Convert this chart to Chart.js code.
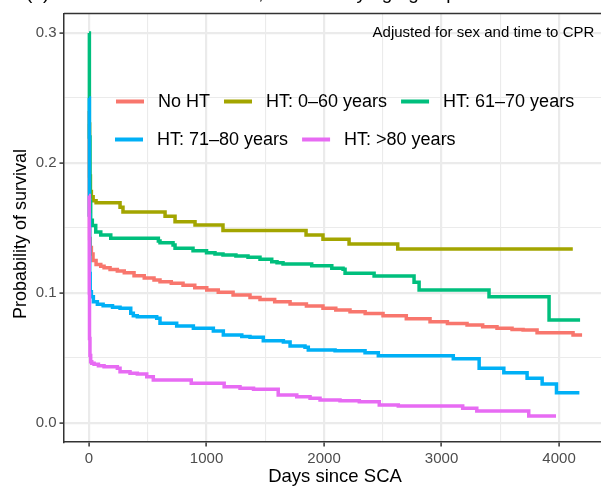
<!DOCTYPE html>
<html>
<head>
<meta charset="utf-8">
<script src="https://cdn.jsdelivr.net/npm/chart.js@4"></script>
<style>
  body { margin: 0; background: #fff; }
  canvas { display: block; }
</style>
</head>
<body>
<canvas id="chart" width="601" height="486"></canvas>
<script>
// Survival curves (days since SCA, probability of survival)
const seriesLabels = ["No HT", "HT: 0\u201360 years", "HT: 61\u201370 years", "HT: 71\u201380 years", "HT: >80 years"];
const seriesColors = ["#F8766D", "#A3A500", "#00BF7D", "#00B0F6", "#E76BF3"];

const noHtDays = [0, 2, 5, 10, 20, 34, 60, 100, 128, 179, 241, 300, 383, 470, 553, 604, 700, 800, 900, 1002, 1100, 1226, 1370, 1455, 1580, 1711, 1850, 1991, 2100, 2221, 2350, 2502, 2700, 2902, 3050, 3217, 3350, 3472, 3600, 3694, 3813, 4119, 4196];
const noHtSurv = [0.24, 0.16, 0.142, 0.135, 0.13, 0.125, 0.122, 0.1205, 0.1195, 0.118, 0.117, 0.1155, 0.1133, 0.1115, 0.11, 0.1087, 0.1075, 0.106, 0.104, 0.1023, 0.1005, 0.0985, 0.0965, 0.095, 0.0932, 0.0915, 0.09, 0.0882, 0.087, 0.0856, 0.0842, 0.0825, 0.0802, 0.0779, 0.0766, 0.0754, 0.0741, 0.0728, 0.072, 0.0715, 0.0695, 0.0677, 0.0677];

const ht0to60Days = [0, 5, 12, 20, 35, 60, 264, 289, 647, 732, 902, 1140, 1847, 1991, 2213, 2627, 4117];
const ht0to60Surv = [0.23, 0.19, 0.178, 0.174, 0.171, 0.1695, 0.166, 0.1623, 0.159, 0.1548, 0.1523, 0.148, 0.1446, 0.1413, 0.1377, 0.1338, 0.1338];

const ht61to70Days = [0, 3, 8, 14, 28, 57, 100, 185, 590, 604, 715, 732, 885, 1000, 1072, 1140, 1250, 1353, 1455, 1555, 1600, 1651, 1895, 2066, 2162, 2179, 2426, 2766, 2809, 3404, 3915, 4179];
const ht61to70Surv = [0.3, 0.22, 0.17, 0.156, 0.152, 0.147, 0.1446, 0.1421, 0.14, 0.1387, 0.1369, 0.1344, 0.1325, 0.131, 0.13, 0.1292, 0.1285, 0.1275, 0.1259, 0.1241, 0.1232, 0.1223, 0.121, 0.119, 0.1182, 0.1152, 0.1131, 0.1082, 0.1023, 0.0972, 0.0792, 0.0792];

const ht71to80Days = [0, 3, 6, 10, 20, 37, 71, 120, 200, 264, 355, 377, 411, 576, 604, 746, 888, 1058, 1143, 1300, 1370, 1483, 1654, 1711, 1838, 1866, 2094, 2349, 2462, 3100, 3320, 3530, 3728, 3856, 3978, 4173];
const ht71to80Surv = [0.25, 0.16, 0.115, 0.101, 0.0972, 0.0933, 0.0913, 0.0902, 0.089, 0.0882, 0.0844, 0.0825, 0.0818, 0.0805, 0.0767, 0.0746, 0.0728, 0.0708, 0.0677, 0.0665, 0.0659, 0.0633, 0.0623, 0.0592, 0.0582, 0.0562, 0.0556, 0.0541, 0.0518, 0.0495, 0.0421, 0.0387, 0.0344, 0.03, 0.0233, 0.0233];

const htOver80Days = [0, 2, 4, 8, 14, 23, 43, 80, 128, 241, 264, 349, 411, 491, 547, 870, 1150, 1285, 1400, 1610, 1768, 1881, 1966, 2136, 2300, 2470, 2632, 3180, 3300, 3742, 3974];
const htOver80Surv = [0.175, 0.1, 0.065, 0.052, 0.0472, 0.0459, 0.0452, 0.044, 0.0433, 0.0421, 0.0395, 0.0382, 0.0377, 0.0356, 0.0331, 0.0305, 0.0279, 0.0267, 0.0259, 0.0215, 0.0202, 0.019, 0.0177, 0.0172, 0.0164, 0.0138, 0.0131, 0.0113, 0.0092, 0.0054, 0.0054];

// axes: grid positions (major + minor) and labelled ticks
const xGrid = [0, 500, 1000, 1500, 2000, 2500, 3000, 3500, 4000];
const xTickLabels = [0, 1000, 2000, 3000, 4000];
const yGrid = [0, 0.05, 0.1, 0.15, 0.2, 0.25, 0.3];
const yTickLabels = [0, 0.1, 0.2, 0.3];

const titleText = "(b) Survival after SCA in HT, stratified by age group";
const xTitle = "Days since SCA";
const yTitle = "Probability of survival";
const noteText = "Adjusted for sex and time to CPR";
const noteX = 4300;
const noteY = 0.3;

const FONT = "'Liberation Sans', Arial, Helvetica, sans-serif";

const allDays = [noHtDays, ht0to60Days, ht61to70Days, ht71to80Days, htOver80Days];
const allSurv = [noHtSurv, ht0to60Surv, ht61to70Surv, ht71to80Surv, htOver80Surv];

const datasets = seriesLabels.map((label, i) => ({
  label: label,
  data: allDays[i].map((d, j) => ({ x: d, y: allSurv[i][j] })),
  borderColor: seriesColors[i],
  backgroundColor: seriesColors[i],
  borderWidth: 3.5,
  pointRadius: 0,
  fill: false,
  stepped: true,
  order: seriesLabels.length - i, // later groups on top, like ggplot
}));

function isMajorX(v) {
  return xTickLabels.includes(v);
}
function isMajorY(v) {
  return yTickLabels.some((t) => Math.abs(t - v) < 1e-9);
}

// top border of the panel (left/bottom come from the axes)
const panelBorder = {
  id: "panelBorder",
  afterDatasetsDraw(chart) {
    const a = chart.chartArea;
    const c = chart.ctx;
    c.save();
    c.strokeStyle = "#333333";
    c.lineWidth = 1.5;
    c.beginPath();
    c.moveTo(a.left, a.top);
    c.lineTo(a.right, a.top);
    c.stroke();
    c.restore();
  },
};

// legend drawn inside the panel, two rows
const insideLegend = {
  id: "insideLegend",
  afterDatasetsDraw(chart) {
    const c = chart.ctx;
    const rows = [
      { start: 116, y: 101.5, items: [0, 1, 2] },
      { start: 115, y: 139.5, items: [3, 4] },
    ];
    c.save();
    c.font = "18px " + FONT;
    c.textBaseline = "middle";
    c.textAlign = "left";
    rows.forEach((row) => {
      let x = row.start;
      row.items.forEach((i) => {
        const ds = chart.data.datasets[i];
        c.strokeStyle = ds.borderColor;
        c.lineWidth = 4;
        c.beginPath();
        c.moveTo(x, row.y);
        c.lineTo(x + 28, row.y);
        c.stroke();
        x += 28 + 14;
        c.fillStyle = "#000";
        c.fillText(ds.label, x, row.y + 1);
        x += c.measureText(ds.label).width + 14;
      });
    });
    c.restore();
  },
};

// annotation, axis titles and plot title (cut off at the top, as in the picture)
const texts = {
  id: "texts",
  afterDraw(chart) {
    const c = chart.ctx;
    const sx = chart.scales.x;
    const sy = chart.scales.y;
    c.save();
    c.fillStyle = "#000";
    c.font = "15px " + FONT;
    c.textAlign = "right";
    c.textBaseline = "middle";
    c.fillText(noteText, sx.getPixelForValue(noteX), sy.getPixelForValue(noteY));

    c.font = "18.5px " + FONT;
    c.textAlign = "center";
    c.fillText(xTitle, 335, 477);

    c.save();
    c.translate(21, 234);
    c.rotate(-Math.PI / 2);
    c.font = "18px " + FONT;
    c.fillText(yTitle, 0, 0);
    c.restore();

    c.font = "19px " + FONT;
    c.textAlign = "left";
    c.textBaseline = "alphabetic";
    c.fillText(titleText, 26, -1.5);
    c.restore();
  },
};

const ctx = document.getElementById("chart");
new Chart(ctx, {
  type: "line",
  data: { datasets: datasets },
  options: {
    responsive: false,
    animation: false,
    layout: { padding: { top: 13.5, right: 0, bottom: 0, left: 0 } },
    plugins: {
      legend: { display: false },
      tooltip: { enabled: false },
    },
    scales: {
      x: {
        type: "linear",
        min: -213,
        max: 4357,
        afterBuildTicks: (s) => {
          s.ticks = xGrid.map((v) => ({ value: v }));
        },
        afterFit: (s) => {
          s.height = 44;
        },
        grid: {
          color: "#EBEBEB",
          lineWidth: (c) => (c.tick && isMajorX(c.tick.value) ? 2.2 : 1.1),
          tickLength: 4.5,
          tickWidth: 1.5,
          tickColor: (c) => (c.tick && isMajorX(c.tick.value) ? "#333333" : "rgba(0,0,0,0)"),
        },
        border: { color: "#333333", width: 1.5 },
        ticks: {
          autoSkip: false,
          maxRotation: 0,
          padding: 3,
          color: "#4D4D4D",
          font: { size: 15, family: FONT },
          callback: (v) => (isMajorX(v) ? String(v) : ""),
        },
      },
      y: {
        type: "linear",
        min: -0.0146,
        max: 0.315,
        afterBuildTicks: (s) => {
          s.ticks = yGrid.map((v) => ({ value: v }));
        },
        afterFit: (s) => {
          s.width = 64;
        },
        grid: {
          color: "#EBEBEB",
          lineWidth: (c) => (c.tick && isMajorY(c.tick.value) ? 2.2 : 1.1),
          tickLength: 4.5,
          tickWidth: 1.5,
          tickColor: (c) => (c.tick && isMajorY(c.tick.value) ? "#333333" : "rgba(0,0,0,0)"),
        },
        border: { color: "#333333", width: 1.5 },
        ticks: {
          autoSkip: false,
          padding: 3,
          color: "#4D4D4D",
          font: { size: 15, family: FONT },
          callback: (v) => (isMajorY(v) ? v.toFixed(1) : ""),
        },
      },
    },
  },
  plugins: [panelBorder, insideLegend, texts],
});
</script>
</body>
</html>
